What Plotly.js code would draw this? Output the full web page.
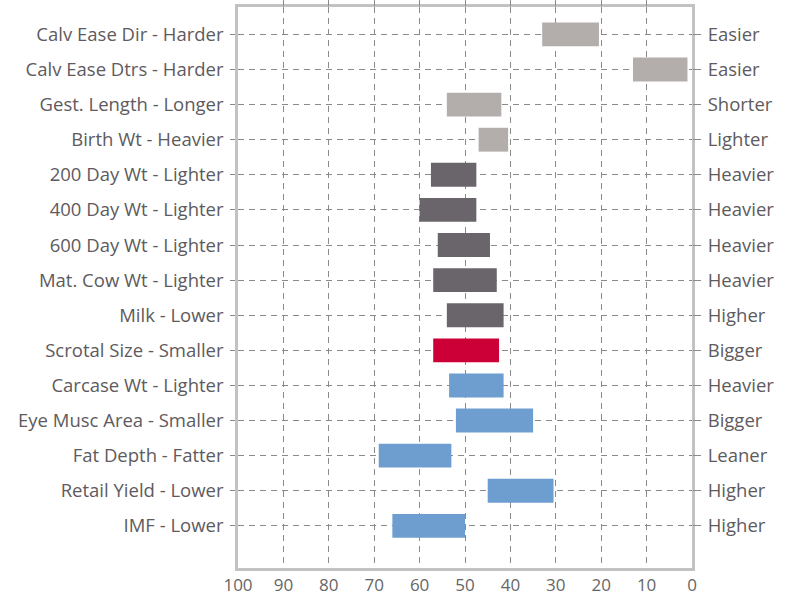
<!DOCTYPE html>
<html>
<head>
<meta charset="utf-8">
<script src="https://cdn.plot.ly/plotly-3.0.1.min.js"></script>
<style>
  html, body { margin: 0; padding: 0; background: #ffffff; }
  #chart { width: 790px; height: 598px; }
</style>
</head>
<body>
<div id="chart"></div>
<script>
// ---- data ----
const traits = [
  "Calv Ease Dir - Harder",
  "Calv Ease Dtrs - Harder",
  "Gest. Length - Longer",
  "Birth Wt - Heavier",
  "200 Day Wt - Lighter",
  "400 Day Wt - Lighter",
  "600 Day Wt - Lighter",
  "Mat. Cow Wt - Lighter",
  "Milk - Lower",
  "Scrotal Size - Smaller",
  "Carcase Wt - Lighter",
  "Eye Musc Area - Smaller",
  "Fat Depth - Fatter",
  "Retail Yield - Lower",
  "IMF - Lower"
];
const rightLabels = [
  "Easier", "Easier", "Shorter", "Lighter",
  "Heavier", "Heavier", "Heavier", "Heavier", "Higher",
  "Bigger",
  "Heavier", "Bigger", "Leaner", "Higher", "Higher"
];
// percentile band: start (left end) and end (right end)
const bandStart = [33, 13, 54, 47, 57.5, 60, 56, 57, 54, 57, 53.5, 52, 69, 45, 66];
const bandEnd   = [20.5, 1, 42, 40.5, 47.5, 47.5, 44.5, 43, 41.5, 42.5, 41.5, 35, 53, 30.5, 50];
const groups = [
  "calving", "calving", "calving", "calving",
  "growth", "growth", "growth", "growth", "growth",
  "fertility",
  "carcase", "carcase", "carcase", "carcase", "carcase"
];
const xTicks = [100, 90, 80, 70, 60, 50, 40, 30, 20, 10, 0];

// ---- styles ----
const groupColors = {
  calving: "#b3aeac",
  growth: "#6a656a",
  fertility: "#cc0036",
  carcase: "#6e9dcf"
};
const textColor = "#5e5a5e";
const gridColor = "#8a8a8a";
const frameColor = "#c2c2c2";
const fontFamily = "'Open Sans', Lato, sans-serif";

const idx = traits.map((t, i) => i);
const yRange = [15.2, -0.78];

const bars = {
  type: "bar",
  orientation: "h",
  y: idx,
  base: bandEnd,
  x: bandStart.map((s, i) => s - bandEnd[i]),
  width: 0.68,
  marker: { color: groups.map(g => groupColors[g]), line: { width: 0 } },
  hovertemplate: "%{text}<extra></extra>",
  text: traits.map((t, i) => t + ": " + bandStart[i] + " – " + bandEnd[i]),
  textposition: "none",
  showlegend: false
};

const dummy = {
  type: "scatter",
  mode: "markers",
  x: [50], y: [0],
  xaxis: "x2", yaxis: "y2",
  marker: { opacity: 0 },
  hoverinfo: "skip",
  showlegend: false
};

const layout = {
  width: 790,
  height: 598,
  margin: { l: 238, r: 98, t: 7, b: 30 },
  paper_bgcolor: "#ffffff",
  plot_bgcolor: "#ffffff",
  font: { family: fontFamily, size: 17, color: textColor },
  xaxis: {
    range: [100, 0],
    tickvals: xTicks,
    ticktext: xTicks.map(String),
    showgrid: true,
    gridcolor: gridColor,
    gridwidth: 1.3,
    griddash: "6px,5px",
    zeroline: false,
    showline: true,
    linecolor: frameColor,
    linewidth: 2.5,
    mirror: true,
    ticks: "",
    ticklabelstandoff: 0,
    tickfont: { family: fontFamily, size: 17, color: "#666666" }
  },
  xaxis2: {
    overlaying: "x",
    side: "top",
    range: [100, 0],
    tickvals: [90, 80, 70, 60, 50, 40, 30, 20, 10],
    ticks: "outside",
    ticklen: 7,
    tickwidth: 1.3,
    tickcolor: gridColor,
    showticklabels: false,
    showgrid: false,
    zeroline: false,
    showline: false
  },
  yaxis: {
    range: yRange,
    tickvals: idx,
    ticktext: traits,
    showgrid: true,
    gridcolor: gridColor,
    gridwidth: 1.3,
    griddash: "6px,5px",
    zeroline: false,
    showline: true,
    linecolor: frameColor,
    linewidth: 2.5,
    mirror: true,
    ticks: "outside",
    ticklen: 5,
    tickwidth: 1.3,
    tickcolor: gridColor,
    ticklabelstandoff: 3,
    tickfont: { family: fontFamily, size: 18.5, color: textColor }
  },
  yaxis2: {
    overlaying: "y",
    side: "right",
    range: yRange,
    tickvals: idx,
    ticktext: rightLabels,
    showgrid: false,
    zeroline: false,
    showline: false,
    ticks: "outside",
    ticklen: 8,
    tickwidth: 1.3,
    tickcolor: gridColor,
    ticklabelstandoff: 3,
    tickfont: { family: fontFamily, size: 18.5, color: textColor }
  }
};

Plotly.newPlot("chart", [bars, dummy], layout, { displayModeBar: false });
</script>
</body>
</html>
